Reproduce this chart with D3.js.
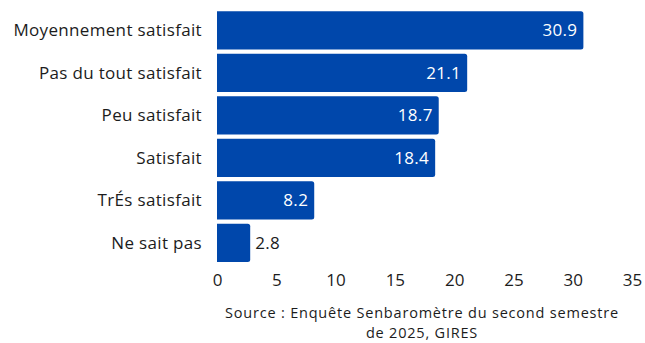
<!DOCTYPE html>
<html>
<head>
<meta charset="utf-8">
<script src="https://cdn.jsdelivr.net/npm/d3@7"></script>
<style>
  html, body { margin: 0; padding: 0; background: #fff; }
  svg { display: block; font-family: "Open Sans", sans-serif; }
</style>
</head>
<body>
<svg id="chart" width="645" height="343"></svg>
<script>
const categories = ["Moyennement satisfait", "Pas du tout satisfait", "Peu satisfait", "Satisfait", "TrÉs satisfait", "Ne sait pas"];
const values = [30.9, 21.1, 18.7, 18.4, 8.2, 2.8];
const xTicks = [0, 5, 10, 15, 20, 25, 30, 35];
const sourceLines = ["Source : Enquête Senbaromètre du second semestre", "de 2025, GIRES"];

const svg = d3.select("#chart");
const barColor = "#0047ab";
const textColor = "#1c1c1c";
const fontFamily = "'Open Sans', sans-serif";
const labelSize = 17;
const labelSpacing = 0.33;

const x = d3.scaleLinear().domain([0, 35]).range([217, 632]);
const y = d3.scaleBand().domain(categories).range([9, 264]).paddingInner(0.1).paddingOuter(0.05);

const data = categories.map((c, i) => ({ c, v: values[i] }));

// Bars with slightly rounded ends
const r = 2.5;
svg.append("g").selectAll("path").data(data).join("path")
  .attr("fill", barColor)
  .attr("d", d => {
    const x0 = x(0), x1 = x(d.v), y0 = y(d.c), h = y.bandwidth();
    return `M${x0},${y0}H${x1 - r}Q${x1},${y0} ${x1},${y0 + r}V${y0 + h - r}Q${x1},${y0 + h} ${x1 - r},${y0 + h}H${x0}Z`;
  });

// Category labels
svg.append("g").selectAll("text").data(data).join("text")
  .attr("x", 202)
  .attr("y", d => y(d.c) + y.bandwidth() / 2)
  .attr("dy", "0.35em")
  .attr("text-anchor", "end")
  .attr("font-size", labelSize)
  .attr("letter-spacing", labelSpacing)
  .attr("fill", textColor)
  .text(d => d.c);

// Value labels: inside the bar when it is wide enough, otherwise just after it
svg.append("g").selectAll("text").data(data).join("text")
  .attr("x", d => d.v > 5 ? x(d.v) - 6 : x(d.v) + 5)
  .attr("y", d => y(d.c) + y.bandwidth() / 2)
  .attr("dy", "0.35em")
  .attr("text-anchor", d => d.v > 5 ? "end" : "start")
  .attr("font-size", labelSize)
  .attr("letter-spacing", labelSpacing)
  .attr("fill", d => d.v > 5 ? "#ffffff" : textColor)
  .text(d => d.v.toFixed(1));

// X axis tick labels
const axis = svg.append("g")
  .attr("transform", "translate(0,265.5)")
  .call(d3.axisBottom(x).tickValues(xTicks).tickSize(0).tickPadding(8).tickFormat(d3.format("d")));
axis.select(".domain").remove();
axis.selectAll("text")
  .attr("font-family", fontFamily)
  .attr("font-size", labelSize)
  .attr("fill", textColor);

// Source note
svg.append("g").selectAll("text").data(sourceLines).join("text")
  .attr("x", 422)
  .attr("y", (d, i) => 318 + i * 19.7)
  .attr("text-anchor", "middle")
  .attr("font-size", 14.5)
  .attr("letter-spacing", 0.8)
  .attr("fill", textColor)
  .text(d => d);
</script>
</body>
</html>
